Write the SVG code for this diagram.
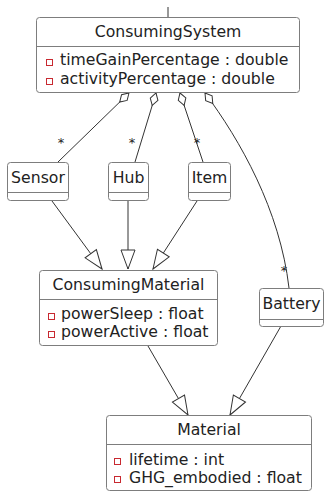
<svg xmlns="http://www.w3.org/2000/svg" width="325" height="495" viewBox="0 0 325 495">
  <style>
    .box { fill: #ffffff; stroke: #7d7d7d; stroke-width: 1; }
    .sep { stroke: #7d7d7d; stroke-width: 1; }
    .name { font-family: "DejaVu Sans", sans-serif; font-size: 15.7px; fill: #222; text-anchor: middle; }
    .attr { font-family: "DejaVu Sans", sans-serif; font-size: 15.7px; fill: #222; }
    .priv { fill: none; stroke: #c82930; stroke-width: 1; }
    .edge { fill: none; stroke: #333; stroke-width: 1; }
    .mult { font-family: "DejaVu Sans", sans-serif; font-size: 13px; fill: #222; text-anchor: middle; }
  </style>
  <defs>
    <marker id="agg" markerUnits="userSpaceOnUse" orient="auto" refX="0" refY="0" markerWidth="14" markerHeight="10" overflow="visible">
      <path d="M0,0 L6.5,-4 L13,0 L6.5,4 Z" fill="#fff" stroke="#333" stroke-width="1"/>
    </marker>
    <marker id="ext" markerUnits="userSpaceOnUse" orient="auto" refX="0" refY="0" markerWidth="20" markerHeight="16" overflow="visible">
      <path d="M0,0 L-19,-7 L-19,7 Z" fill="#fff" stroke="#333" stroke-width="1"/>
    </marker>
  </defs>

  <!-- connectors -->
  <g id="connectors">
    <line class="edge" x1="168" y1="7" x2="168" y2="17"/>
    <line class="edge" x1="129" y1="93" x2="58" y2="162" marker-start="url(#agg)"/>
    <line class="edge" x1="156" y1="93" x2="135" y2="162" marker-start="url(#agg)"/>
    <line class="edge" x1="180" y1="93" x2="203" y2="162" marker-start="url(#agg)"/>
    <path class="edge" d="M205,93 C240,140 280,210 289,288" marker-start="url(#agg)"/>
    <text class="mult" x="61" y="147">*</text>
    <text class="mult" x="132" y="147">*</text>
    <text class="mult" x="197" y="147">*</text>
    <text class="mult" x="284" y="275">*</text>
    <line class="edge" x1="52" y1="201" x2="102" y2="269" marker-end="url(#ext)"/>
    <line class="edge" x1="128" y1="201" x2="128" y2="269" marker-end="url(#ext)"/>
    <line class="edge" x1="197" y1="201" x2="153" y2="269" marker-end="url(#ext)"/>
    <line class="edge" x1="148" y1="346" x2="188" y2="415" marker-end="url(#ext)"/>
    <line class="edge" x1="281" y1="326" x2="230" y2="415" marker-end="url(#ext)"/>
  </g>

  <!-- ConsumingSystem -->
  <g id="ConsumingSystem">
    <rect class="box" x="36.5" y="17.5" width="263" height="75" rx="3"/>
    <line class="sep" x1="36.5" y1="46.5" x2="299.5" y2="46.5"/>
    <text class="name" x="168" y="37">ConsumingSystem</text>
    <rect class="priv" x="46.5" y="59.5" width="6" height="6"/>
    <text class="attr" x="60" y="65">timeGainPercentage : double</text>
    <rect class="priv" x="46.5" y="78.5" width="6" height="6"/>
    <text class="attr" x="60" y="84">activityPercentage : double</text>
  </g>

  <!-- Sensor -->
  <g id="Sensor">
    <rect class="box" x="7.5" y="162.5" width="61" height="38" rx="3"/>
    <line class="sep" x1="7.5" y1="192.5" x2="68.5" y2="192.5"/>
    <text class="name" x="38" y="183">Sensor</text>
  </g>

  <!-- Hub -->
  <g id="Hub">
    <rect class="box" x="108.5" y="162.5" width="40" height="38" rx="3"/>
    <line class="sep" x1="108.5" y1="192.5" x2="148.5" y2="192.5"/>
    <text class="name" x="128.5" y="183">Hub</text>
  </g>

  <!-- Item -->
  <g id="Item">
    <rect class="box" x="188.5" y="162.5" width="42" height="38" rx="3"/>
    <line class="sep" x1="188.5" y1="192.5" x2="230.5" y2="192.5"/>
    <text class="name" x="209.5" y="183">Item</text>
  </g>

  <!-- ConsumingMaterial -->
  <g id="ConsumingMaterial">
    <rect class="box" x="39.5" y="270.5" width="178" height="75" rx="3"/>
    <line class="sep" x1="39.5" y1="299.5" x2="217.5" y2="299.5"/>
    <text class="name" x="128.5" y="290">ConsumingMaterial</text>
    <rect class="priv" x="48.5" y="313.5" width="6" height="6"/>
    <text class="attr" x="61" y="319">powerSleep : float</text>
    <rect class="priv" x="48.5" y="331.5" width="6" height="6"/>
    <text class="attr" x="61" y="337">powerActive : float</text>
  </g>

  <!-- Battery -->
  <g id="Battery">
    <rect class="box" x="259.5" y="288.5" width="64" height="38" rx="3"/>
    <line class="sep" x1="259.5" y1="319.5" x2="323.5" y2="319.5"/>
    <text class="name" x="291.5" y="309">Battery</text>
  </g>

  <!-- Material -->
  <g id="Material">
    <rect class="box" x="106.5" y="415.5" width="205" height="75" rx="3"/>
    <line class="sep" x1="106.5" y1="444.5" x2="311.5" y2="444.5"/>
    <text class="name" x="209" y="435">Material</text>
    <rect class="priv" x="114.5" y="458.5" width="6" height="6"/>
    <text class="attr" x="129" y="465">lifetime : int</text>
    <rect class="priv" x="114.5" y="476.5" width="6" height="6"/>
    <text class="attr" x="129" y="483">GHG_embodied : float</text>
  </g>
</svg>
